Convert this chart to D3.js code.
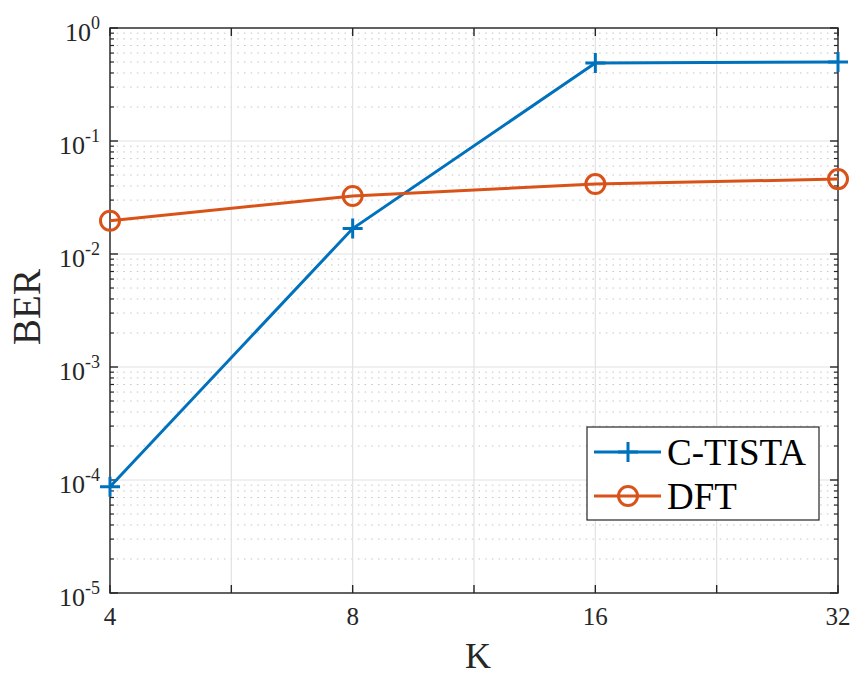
<!DOCTYPE html>
<html><head><meta charset="utf-8">
<script src="https://cdn.jsdelivr.net/npm/d3@7"></script>
<style>body{margin:0;background:#fff}svg{display:block}</style>
</head><body>
<script>
const kValues = [4, 8, 16, 32];
const ctista = [8.7e-5, 0.0168, 0.49, 0.50];
const dft = [0.0197, 0.0326, 0.0416, 0.046];
const xTickLabels = ["4", "8", "16", "32"];
const yExponents = [0, -1, -2, -3, -4, -5];
const seriesNames = ["C-TISTA", "DFT"];
const colors = ["#0072BD", "#D95319"];

const W = 855, H = 677;
const m = {l: 110, r: 17, t: 28, b: 84};
const svg = d3.select("body").append("svg").attr("width", W).attr("height", H);
const x = d3.scaleLog().base(2).domain([4, 32]).range([m.l, W - m.r]);
const y = d3.scaleLog().domain([1e-5, 1]).range([H - m.b, m.t]);
const font = "'Liberation Serif','Times New Roman',serif";
const axisColor = "#262626";

const xGrid = [];
for (let e = 2; e <= 5.0001; e += 0.5) xGrid.push(Math.pow(2, e));
const yMinor = [];
for (let d = -5; d < 0; d++) for (let k = 2; k <= 9; k++) yMinor.push(k * Math.pow(10, d));
const yMajor = yExponents.map(e => Math.pow(10, e));

const g = svg.append("g");
g.selectAll(".ymin").data(yMinor).join("line")
  .attr("x1", m.l).attr("x2", W - m.r).attr("y1", d => y(d)).attr("y2", d => y(d))
  .attr("stroke", "#c4c4c4").attr("stroke-width", 1).attr("stroke-dasharray", "1.5,5.2");
g.selectAll(".ymaj").data(yMajor).join("line")
  .attr("x1", m.l).attr("x2", W - m.r).attr("y1", d => y(d)).attr("y2", d => y(d))
  .attr("stroke", "#e2e2e2").attr("stroke-width", 1.2);
g.selectAll(".xg").data(xGrid).join("line")
  .attr("x1", d => x(d)).attr("x2", d => x(d)).attr("y1", m.t).attr("y2", H - m.b)
  .attr("stroke", "#e2e2e2").attr("stroke-width", 1.2);

const ax = svg.append("g");
ax.append("rect").attr("x", m.l).attr("y", m.t).attr("width", W - m.r - m.l).attr("height", H - m.b - m.t)
  .attr("fill", "none").attr("stroke", axisColor).attr("stroke-width", 1.4);
xGrid.forEach(v => {
  ax.append("line").attr("x1", x(v)).attr("x2", x(v)).attr("y1", H - m.b).attr("y2", H - m.b - 8).attr("stroke", axisColor).attr("stroke-width", 1.4);
  ax.append("line").attr("x1", x(v)).attr("x2", x(v)).attr("y1", m.t).attr("y2", m.t + 8).attr("stroke", axisColor).attr("stroke-width", 1.4);
});
yMajor.forEach(v => {
  ax.append("line").attr("x1", m.l).attr("x2", m.l + 8).attr("y1", y(v)).attr("y2", y(v)).attr("stroke", axisColor).attr("stroke-width", 1.4);
  ax.append("line").attr("x1", W - m.r).attr("x2", W - m.r - 8).attr("y1", y(v)).attr("y2", y(v)).attr("stroke", axisColor).attr("stroke-width", 1.4);
});
yMinor.forEach(v => {
  ax.append("line").attr("x1", m.l).attr("x2", m.l + 4).attr("y1", y(v)).attr("y2", y(v)).attr("stroke", axisColor).attr("stroke-width", 1.2);
  ax.append("line").attr("x1", W - m.r).attr("x2", W - m.r - 4).attr("y1", y(v)).attr("y2", y(v)).attr("stroke", axisColor).attr("stroke-width", 1.2);
});
kValues.forEach((k, i) => {
  ax.append("text").attr("x", x(k)).attr("y", H - m.b + 32).attr("text-anchor", "middle")
    .attr("font-family", font).attr("font-size", 25).attr("fill", axisColor).text(xTickLabels[i]);
});
yExponents.forEach(e => {
  const t = ax.append("text").attr("x", m.l - 10).attr("y", y(Math.pow(10, e)) + 13).attr("text-anchor", "end")
    .attr("font-family", font).attr("font-size", 26).attr("fill", axisColor);
  t.append("tspan").text("10");
  t.append("tspan").attr("font-size", 18).attr("dy", -12).text(String(e));
});
svg.append("text").attr("x", 478).attr("y", 668).attr("text-anchor", "middle")
  .attr("font-family", font).attr("font-size", 36).attr("fill", axisColor).text("K");
svg.append("text").attr("transform", "translate(40,307) rotate(-90)").attr("text-anchor", "middle")
  .attr("font-family", font).attr("font-size", 39).attr("fill", axisColor).text("BER");

const line = d3.line().x(d => x(d[0])).y(d => y(d[1]));
const series = [ctista, dft];
const plot = svg.append("g");
series.forEach((s, i) => {
  const pts = kValues.map((k, j) => [k, s[j]]);
  plot.append("path").attr("d", line(pts)).attr("fill", "none").attr("stroke", colors[i]).attr("stroke-width", 3);
});
function plus(sel, cx, cy, c) {
  sel.append("path").attr("d", `M${cx-10},${cy}H${cx+10}M${cx},${cy-10}V${cy+10}`).attr("stroke", c).attr("stroke-width", 3);
}
function circ(sel, cx, cy, c) {
  sel.append("circle").attr("cx", cx).attr("cy", cy).attr("r", 9.5).attr("fill", "none").attr("stroke", c).attr("stroke-width", 3);
}
kValues.forEach((k, j) => {
  plus(plot, x(k), y(ctista[j]), colors[0]);
  circ(plot, x(k), y(dft[j]), colors[1]);
});

const lg = svg.append("g");
lg.append("rect").attr("x", 587).attr("y", 427).attr("width", 232).attr("height", 93)
  .attr("fill", "#fff").attr("stroke", axisColor).attr("stroke-width", 1.2);
const rows = [452, 496];
seriesNames.forEach((n, i) => {
  lg.append("line").attr("x1", 594).attr("x2", 661).attr("y1", rows[i]).attr("y2", rows[i]).attr("stroke", colors[i]).attr("stroke-width", 3);
  if (i === 0) plus(lg, 628, rows[i], colors[i]); else circ(lg, 628, rows[i], colors[i]);
  lg.append("text").attr("x", 667).attr("y", rows[i] + 13).attr("font-family", font).attr("font-size", 37)
    .attr("fill", "#000").text(n);
});
</script>
</body></html>
